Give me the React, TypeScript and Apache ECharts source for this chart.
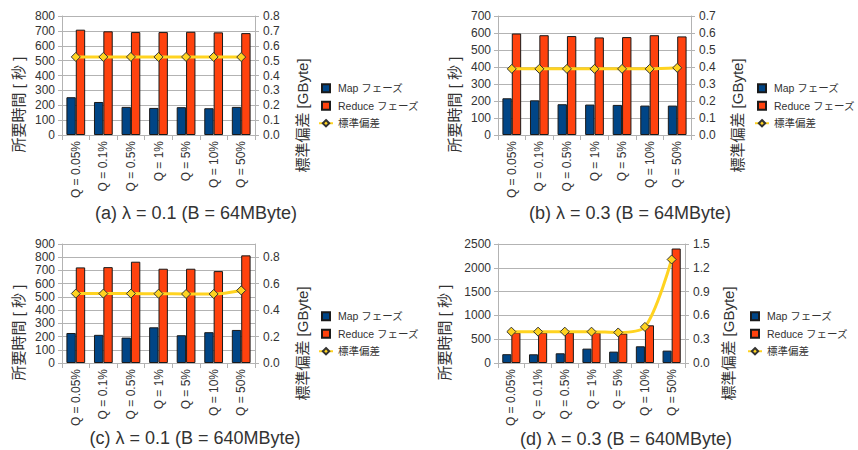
import React, { useEffect, useRef } from "react";
import * as echarts from "echarts";

// ---- data ----
const categories = ["Q = 0.05%", "Q = 0.1%", "Q = 0.5%", "Q = 1%", "Q = 5%", "Q = 10%", "Q = 50%"];

const panelTitles = [
  "(a) λ = 0.1 (B = 64MByte)",
  "(b) λ = 0.3 (B = 64MByte)",
  "(c) λ = 0.1 (B = 640MByte)",
  "(d) λ = 0.3 (B = 640MByte)",
];

const seriesNames = ["Map フェーズ", "Reduce フェーズ", "標準偏差"];
const leftAxisName = "所要時間 [ 秒 ]";
const rightAxisName = "標準偏差 [GByte]";

// (a)
const mapA = [254, 222, 189, 182, 187, 180, 189];
const reduceA = [708, 697, 692, 692, 694, 690, 685];
const stdA = [0.525, 0.525, 0.525, 0.525, 0.525, 0.525, 0.524];
// (b)
const mapB = [216, 204, 181, 179, 177, 173, 173];
const reduceB = [597, 587, 582, 574, 576, 587, 580];
const stdB = [0.389, 0.389, 0.389, 0.389, 0.389, 0.389, 0.395];
// (c)
const mapC = [227, 213, 192, 270, 210, 233, 250];
const reduceC = [723, 725, 766, 713, 713, 695, 814];
const stdC = [0.525, 0.525, 0.525, 0.524, 0.522, 0.522, 0.549];
// (d)
const mapD = [185, 183, 204, 302, 239, 351, 260];
const reduceD = [640, 640, 640, 640, 620, 792, 2405];
const stdD = [0.395, 0.395, 0.395, 0.395, 0.385, 0.455, 1.305];

// axis scales
const leftMax = [800, 700, 900, 2500];
const leftInterval = [100, 100, 100, 500];
const rightMax = [0.8, 0.7, 0.9, 1.5];
const rightInterval = [0.1, 0.1, 0.2, 0.3];

const mapData = [mapA, mapB, mapC, mapD];
const reduceData = [reduceA, reduceB, reduceC, reduceD];
const stdData = [stdA, stdB, stdC, stdD];

// ---- layout / style ----
const layout = [
  { grid: { left: 62, top: 16, width: 193, height: 119 }, legend: { left: 318, top: 83 }, title: { x: 191, y: 199 } },
  { grid: { left: 498, top: 16, width: 193, height: 119 }, legend: { left: 754, top: 83 }, title: { x: 625, y: 199 } },
  { grid: { left: 62, top: 244, width: 193, height: 119 }, legend: { left: 318, top: 311 }, title: { x: 190, y: 424 } },
  { grid: { left: 498, top: 244, width: 187, height: 119 }, legend: { left: 747, top: 311 }, title: { x: 621, y: 425 } },
];
const leftNameGap = [36, 36, 36, 46];
const rightNameGap = [40, 39, 40, 36];

const FONT = "'Liberation Sans', 'Noto Sans CJK JP', sans-serif";
const MAP_COLOR = "#004586";
const REDUCE_COLOR = "#ff420e";
const LINE_COLOR = "#ffd320";
const AXIS_COLOR = "#b3b3b3";
const TEXT_COLOR = "#333333";
const SQUARE = "path://M0,0H10V10H0Z";

function buildOption() {
  const grid: any[] = [];
  const xAxis: any[] = [];
  const yAxis: any[] = [];
  const series: any[] = [];
  const legend: any[] = [];
  const title: any[] = [];

  for (let i = 0; i < 4; i++) {
    const L = layout[i];
    grid.push({ ...L.grid, containLabel: false });
    xAxis.push({
      type: "category",
      gridIndex: i,
      data: categories,
      boundaryGap: true,
      axisLine: { show: true, lineStyle: { color: AXIS_COLOR } },
      axisTick: { show: true, length: 5, alignWithLabel: false, interval: 0, lineStyle: { color: AXIS_COLOR } },
      axisLabel: { rotate: 90, interval: 0, fontSize: 12, color: TEXT_COLOR, margin: 6, fontFamily: FONT },
      splitLine: { show: false },
    });
    yAxis.push({
      type: "value",
      gridIndex: i,
      position: "left",
      min: 0,
      max: leftMax[i],
      interval: leftInterval[i],
      name: leftAxisName,
      nameLocation: "middle",
      nameRotate: 90,
      nameGap: leftNameGap[i],
      nameTextStyle: { fontSize: 15, color: TEXT_COLOR, fontFamily: FONT, padding: [0, 58, 0, 0] },
      axisLine: { show: true, lineStyle: { color: AXIS_COLOR } },
      axisTick: { show: true, length: 4, lineStyle: { color: AXIS_COLOR } },
      axisLabel: { fontSize: 12, color: TEXT_COLOR, margin: 7, fontFamily: FONT, formatter: (v: number) => String(v) },
      splitLine: { show: true, lineStyle: { color: AXIS_COLOR } },
    });
    yAxis.push({
      type: "value",
      gridIndex: i,
      position: "right",
      min: 0,
      max: rightMax[i],
      interval: rightInterval[i],
      name: rightAxisName,
      nameLocation: "middle",
      nameRotate: 90,
      nameGap: rightNameGap[i],
      nameTextStyle: { fontSize: 15, color: TEXT_COLOR, fontFamily: FONT, padding: [0, 80, 0, 0] },
      axisLine: { show: true, lineStyle: { color: AXIS_COLOR } },
      axisTick: { show: true, length: 4, lineStyle: { color: AXIS_COLOR } },
      axisLabel: {
        fontSize: 12,
        color: TEXT_COLOR,
        margin: 8,
        fontFamily: FONT,
        showMaxLabel: i === 2 ? false : true,
        formatter: (v: number) => v.toFixed(1),
      },
      splitLine: { show: false },
    });
    series.push({
      type: "bar",
      name: seriesNames[0],
      xAxisIndex: i,
      yAxisIndex: 2 * i,
      data: mapData[i],
      barGap: "0%",
      barCategoryGap: "32%",
      itemStyle: { color: MAP_COLOR, borderColor: "#1a1a1a", borderWidth: 1 },
    });
    series.push({
      type: "bar",
      name: seriesNames[1],
      xAxisIndex: i,
      yAxisIndex: 2 * i,
      data: reduceData[i],
      barGap: "0%",
      barCategoryGap: "32%",
      itemStyle: { color: REDUCE_COLOR, borderColor: "#1a1a1a", borderWidth: 1 },
    });
    series.push({
      type: "line",
      name: seriesNames[2],
      xAxisIndex: i,
      yAxisIndex: 2 * i + 1,
      data: stdData[i],
      smooth: 0.3,
      symbol: "diamond",
      symbolSize: 9,
      lineStyle: { color: LINE_COLOR, width: 3 },
      itemStyle: { color: LINE_COLOR, borderColor: "#333", borderWidth: 1 },
      z: 5,
    });
    legend.push({
      orient: "vertical",
      left: L.legend.left,
      top: L.legend.top,
      padding: 0,
      itemWidth: 14,
      itemHeight: 8,
      itemGap: 7,
      selectedMode: false,
      textStyle: { fontSize: 10.5, color: TEXT_COLOR, fontFamily: FONT },
      data: [
        { name: seriesNames[0], icon: SQUARE },
        { name: seriesNames[1], icon: SQUARE },
        { name: seriesNames[2] },
      ],
    });
    title.push({
      text: panelTitles[i],
      left: L.title.x,
      top: L.title.y,
      textAlign: "center",
      textStyle: { fontSize: 18, fontWeight: "normal", color: TEXT_COLOR, fontFamily: FONT },
    });
  }

  return {
    animation: false,
    backgroundColor: "#ffffff",
    textStyle: { fontFamily: FONT },
    title,
    legend,
    grid,
    xAxis,
    yAxis,
    series,
  };
}

export default function App() {
  const ref = useRef<HTMLDivElement>(null);
  useEffect(() => {
    if (!ref.current) return;
    const chart = echarts.init(ref.current, undefined, { renderer: "svg" });
    chart.setOption(buildOption() as any);
    return () => chart.dispose();
  }, []);
  return <div ref={ref} style={{ position: "absolute", left: 0, top: 0, width: 858, height: 450 }} />;
}
